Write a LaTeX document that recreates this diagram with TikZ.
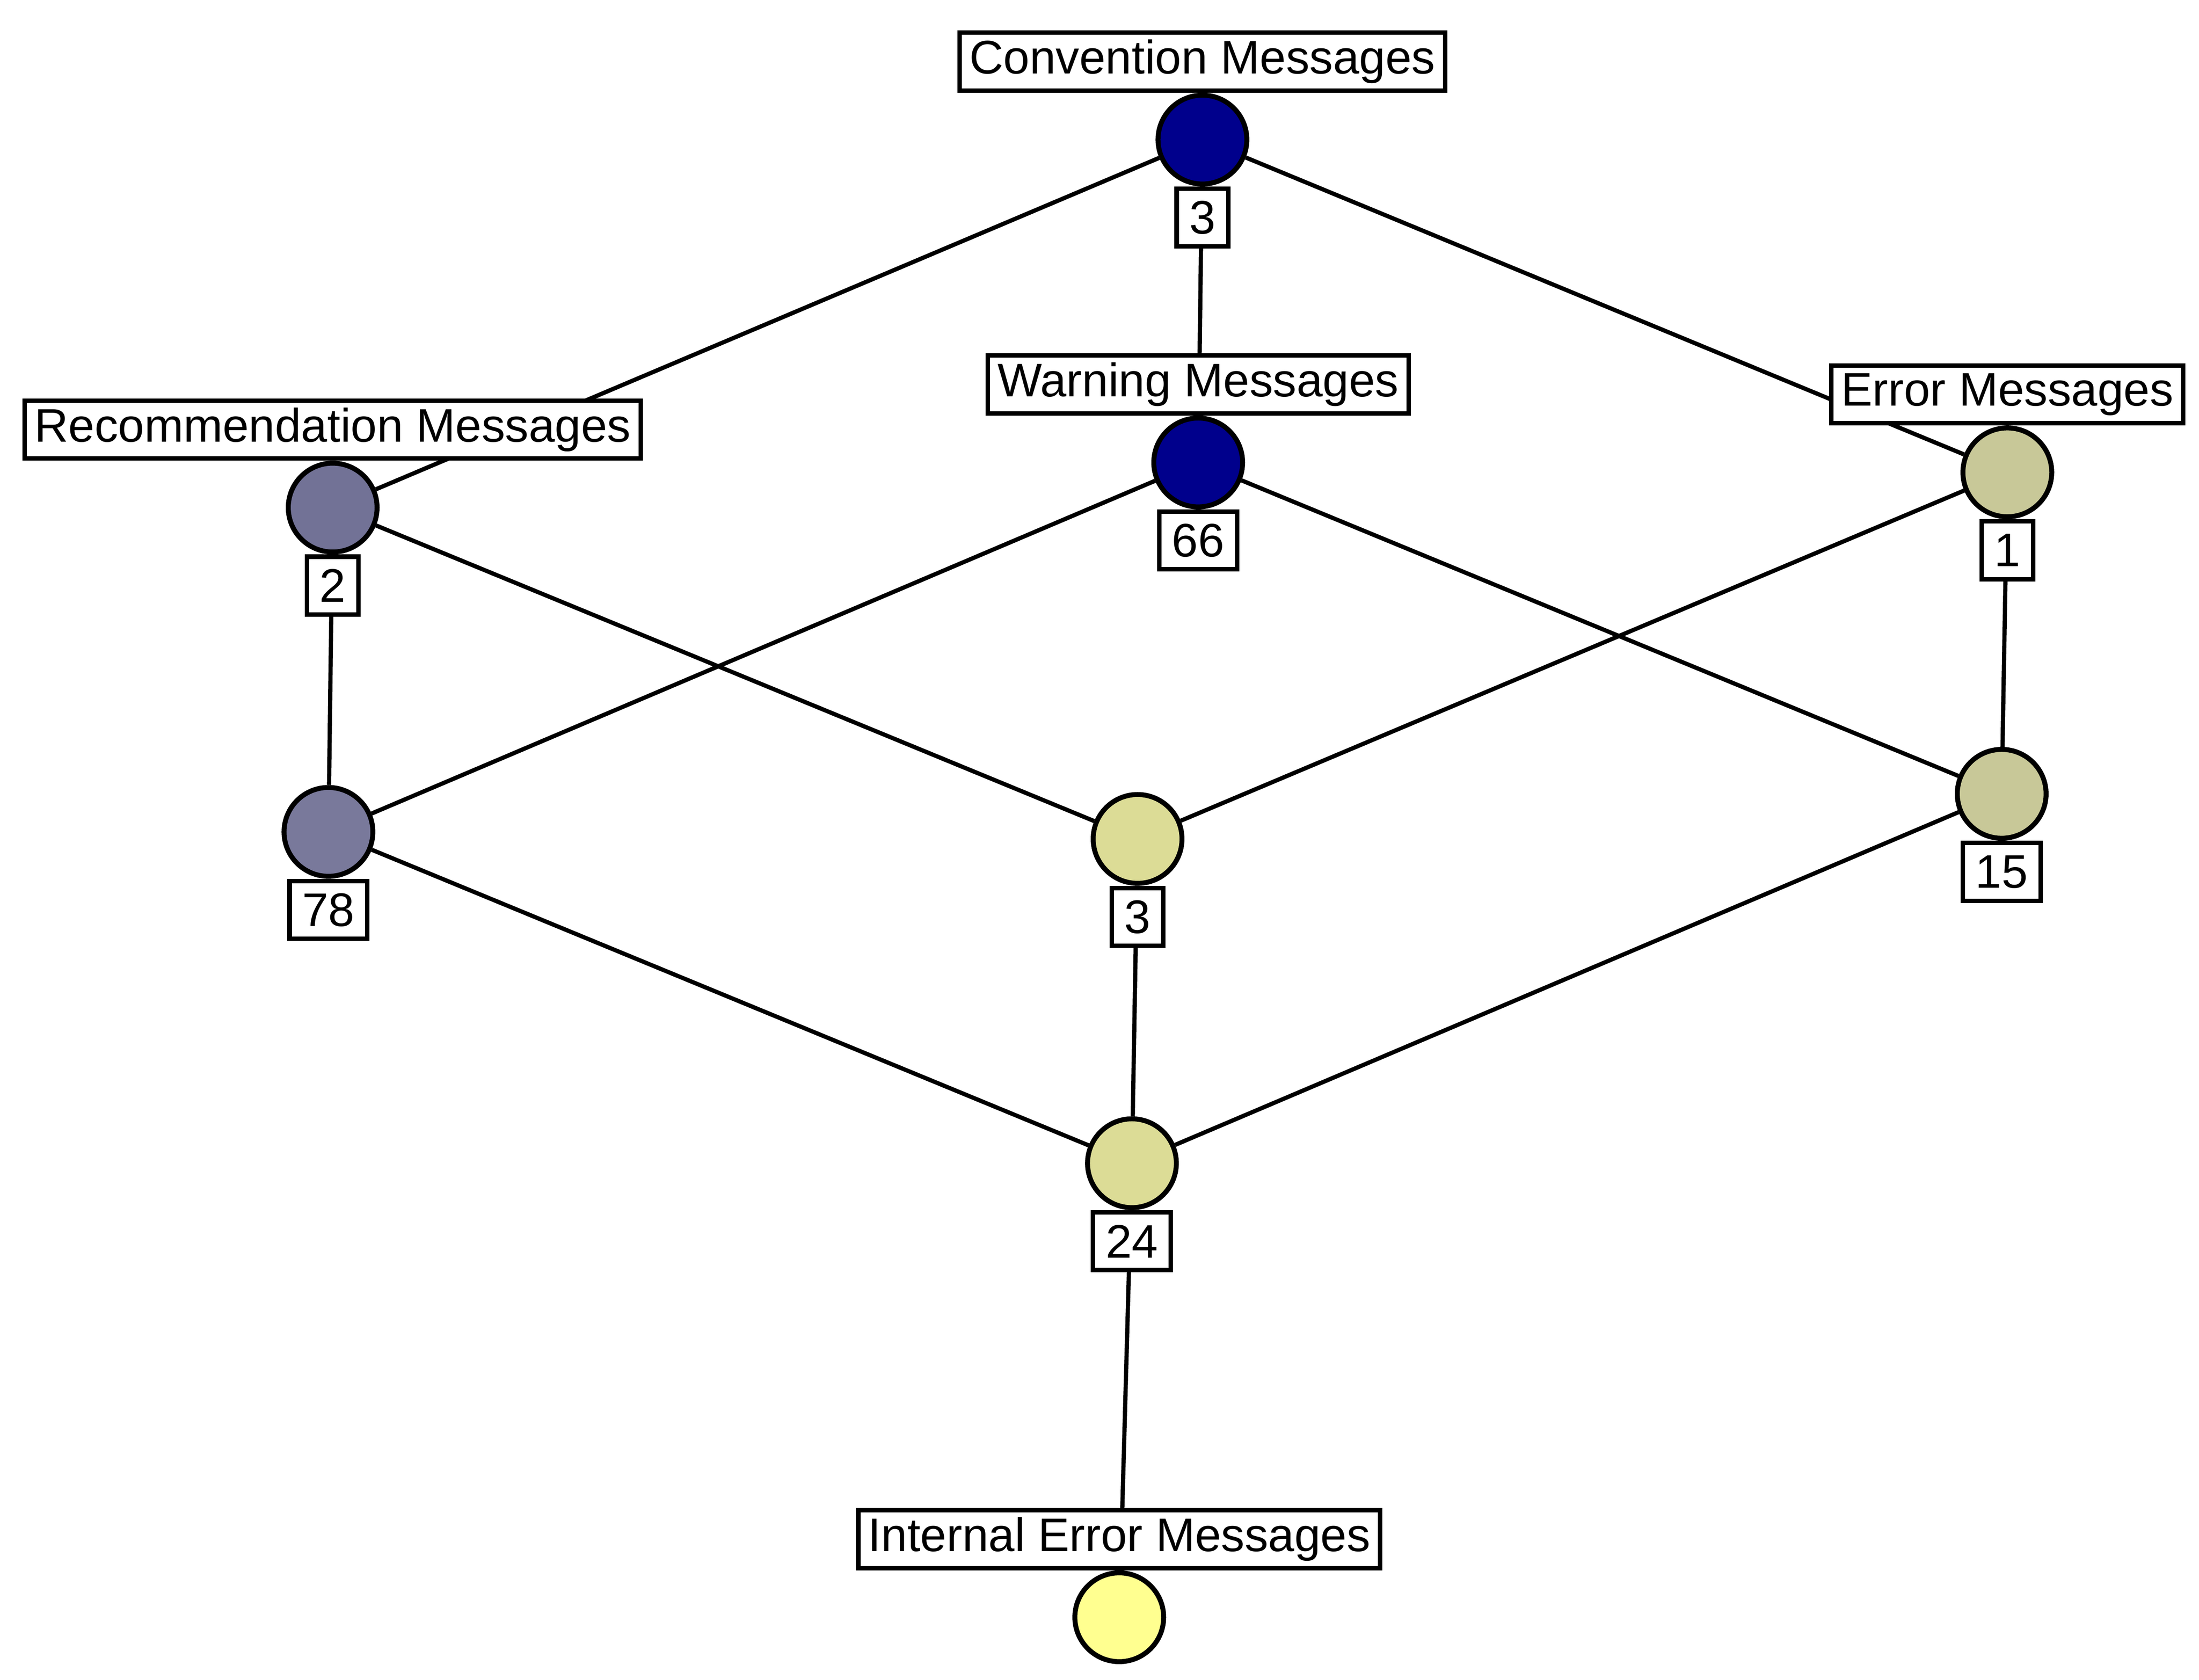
\documentclass[tikz,border=0pt]{standalone}
\usepackage{fontspec}
\setmainfont{Liberation Sans}
\usepackage{tikz}
\usetikzlibrary{positioning, backgrounds}

\definecolor{convblue}{RGB}{0,0,140}
\definecolor{recgray}{RGB}{114,114,150}
\definecolor{errkhaki}{RGB}{200,200,152}
\definecolor{midyellow}{RGB}{220,220,150}
\definecolor{lowyellow}{RGB}{255,255,144}

\begin{document}
\begin{tikzpicture}[semithick,
  concept/.style={circle, draw, line width=1pt, minimum size=0.63cm, inner sep=0pt},
  namebox/.style={draw, fill=white, line width=0.9pt, inner xsep=0.07cm, inner ysep=0pt,
    minimum height=0.41cm, font=\fontsize{9.5pt}{11pt}\selectfont},
  countbox/.style={namebox, inner xsep=0.09cm, minimum width=0.36cm},
  link/.style={line width=0.85pt}]

  \useasboundingbox (0,0) rectangle (15.6,-11.914);

  \node[concept, fill=convblue] (conv) at (8.53,-0.99) {};
  \node[concept, fill=convblue] (warn) at (8.50,-3.28) {};
  \node[concept, fill=recgray] (rec) at (2.36,-3.60) {};
  \node[concept, fill=errkhaki] (err) at (14.24,-3.35) {};
  \node[concept, fill=recgray!95!white] (ob78) at (2.33,-5.90) {};
  \node[concept, fill=midyellow] (ob3) at (8.07,-5.95) {};
  \node[concept, fill=errkhaki] (ob15) at (14.20,-5.63) {};
  \node[concept, fill=midyellow] (ob24) at (8.03,-8.25) {};
  \node[concept, fill=lowyellow] (intern) at (7.94,-11.47) {};

  \begin{pgfonlayer}{background}
  \path[link]
    (conv) edge (rec)
    (conv) edge (warn)
    (conv) edge (err)
    (rec) edge (ob78)
    (rec) edge (ob3)
    (warn) edge (ob78)
    (warn) edge (ob15)
    (err) edge (ob3)
    (err) edge (ob15)
    (ob78) edge (ob24)
    (ob3) edge (ob24)
    (ob15) edge (ob24)
    (ob24) edge (intern);
  \end{pgfonlayer}

  % attribute names
  \node[namebox, above=0pt of conv] (convname) {Convention Messages};
  \node[namebox, above=0pt of warn] (warnname) {Warning Messages};
  \node[namebox, above=0pt of rec] (recname) {Recommendation Messages};
  \node[namebox, above=0pt of err] (errname) {Error Messages};
  \node[namebox, above=0pt of intern] (internname) {Internal Error Messages};

  % object counts
  \node[countbox, below=0pt of conv] (convcount) {3};
  \node[countbox, below=0pt of warn] (warncount) {66};
  \node[countbox, below=0pt of rec] (reccount) {2};
  \node[countbox, below=0pt of err] (errcount) {1};
  \node[countbox, below=0pt of ob78] (count78) {78};
  \node[countbox, below=0pt of ob3] (count3) {3};
  \node[countbox, below=0pt of ob15] (count15) {15};
  \node[countbox, below=0pt of ob24] (count24) {24};
\end{tikzpicture}
\end{document}
